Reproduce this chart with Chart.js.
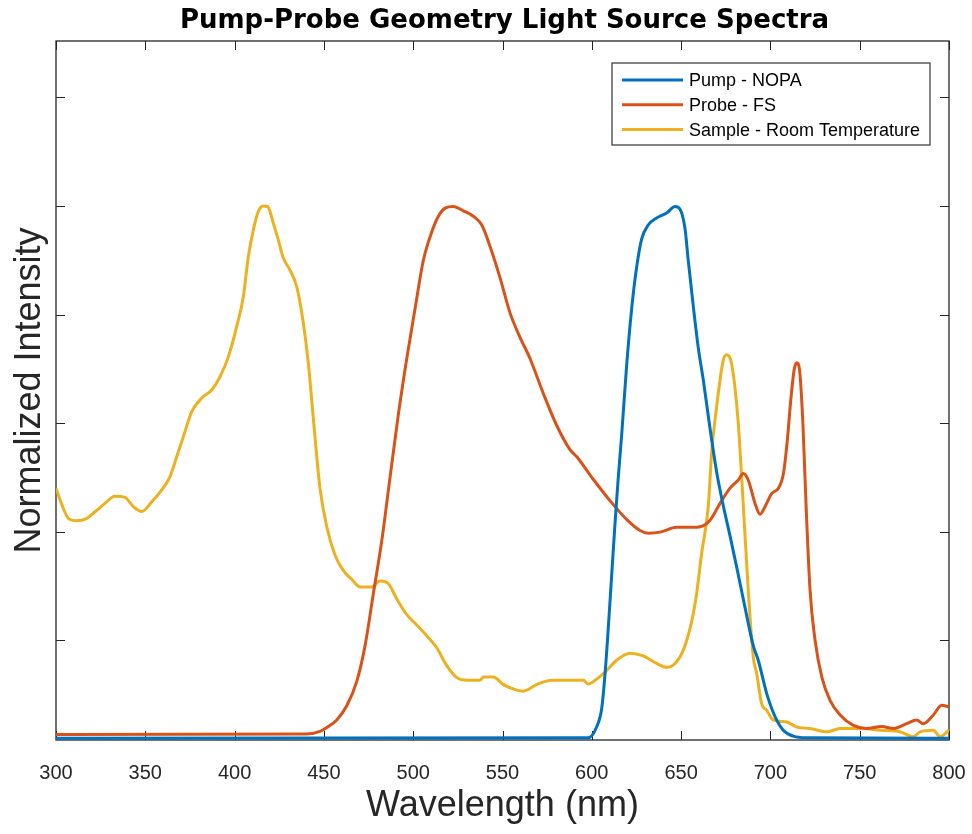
<!DOCTYPE html>
<html>
<head>
<meta charset="utf-8">
<script src="https://cdn.jsdelivr.net/npm/chart.js@4.4.1/dist/chart.umd.min.js"></script>
<style>
  body { margin: 0; background: #fff; }
  #wrap { width: 972px; height: 834px; position: relative; }
</style>
</head>
<body>
<div id="wrap"><canvas id="spectraChart"></canvas></div>
<script>
// wavelength ticks (nm) and hidden intensity ticks
const xTicks = [300, 350, 400, 450, 500, 550, 600, 650, 700, 750, 800];
const yTicks = [0.2, 0.4, 0.6, 0.8, 1.0, 1.2];

// Pump - NOPA
const pumpWl = [300, 598, 602.7, 605.5, 607.4, 609.2, 611.1, 613, 614.8, 616.7, 619.5, 622.3, 625.1, 627.9, 631.6, 636.3, 641.9, 646.6, 649.4, 652.2, 654, 656.8, 659.6, 662.4, 666.2, 669.9, 673.6, 677.4, 681.1, 685.8, 690.4, 693.2, 697.9, 702.6, 707.2, 712.8, 720.3, 800];
const pumpVal = [0.019, 0.02, 0.04, 0.073, 0.137, 0.221, 0.318, 0.415, 0.499, 0.577, 0.706, 0.81, 0.887, 0.939, 0.965, 0.978, 0.987, 0.999, 0.994, 0.958, 0.9, 0.816, 0.739, 0.68, 0.59, 0.51, 0.448, 0.392, 0.335, 0.26, 0.19, 0.163, 0.102, 0.059, 0.034, 0.023, 0.02, 0.019];

// Probe - FS
const probeWl = [300, 440, 447.8, 452, 457.2, 462.8, 468.4, 473, 477.7, 482.4, 487, 491.7, 496.4, 501, 505.7, 510.4, 514.1, 517.9, 522.5, 528.1, 533.7, 538.4, 543, 548.6, 554.2, 559.8, 565.4, 572.8, 580.3, 587.8, 591.6, 600.9, 610.2, 619.6, 627, 631.7, 638.2, 647.5, 656.8, 660.6, 666.2, 671.8, 677.4, 682, 684.8, 687.6, 691.4, 694.2, 697, 700.7, 704.5, 707.3, 709.5, 711.4, 713.3, 714.8, 716.3, 718.2, 720, 722.2, 725, 728.8, 733.4, 739, 746.5, 753.9, 762.3, 768.8, 776.3, 781.9, 785.6, 791.2, 795.9, 800];
const probeVal = [0.026, 0.027, 0.032, 0.04, 0.053, 0.079, 0.124, 0.189, 0.286, 0.383, 0.499, 0.616, 0.719, 0.81, 0.9, 0.952, 0.981, 0.996, 0.999, 0.991, 0.981, 0.965, 0.926, 0.868, 0.803, 0.758, 0.719, 0.655, 0.596, 0.551, 0.538, 0.496, 0.457, 0.422, 0.402, 0.397, 0.399, 0.408, 0.408, 0.409, 0.421, 0.452, 0.48, 0.495, 0.507, 0.495, 0.452, 0.432, 0.446, 0.47, 0.48, 0.507, 0.569, 0.642, 0.698, 0.711, 0.698, 0.599, 0.446, 0.292, 0.2, 0.132, 0.089, 0.062, 0.043, 0.037, 0.041, 0.037, 0.046, 0.053, 0.046, 0.062, 0.08, 0.077];

// Sample - Room Temperature
const sampleWl = [300, 303, 307, 311.6, 317, 322, 327.4, 333, 338.6, 343.3, 348, 353.6, 359.2, 363.8, 367.6, 371.3, 376, 381.6, 387.2, 391.8, 396.5, 401.2, 404.9, 407.7, 410.5, 413.3, 416.1, 418.5, 421.7, 424.5, 427.3, 431, 434.8, 438.5, 441.3, 443.5, 445.4, 447.8, 451.6, 456.2, 460.9, 465.6, 470.2, 476.8, 481.4, 486.1, 490.8, 496.4, 502, 507.6, 513.2, 518.8, 524.4, 530, 537.4, 539.3, 544.9, 550.5, 558, 561.7, 569.1, 577.5, 595.3, 598, 602.7, 608.3, 613.9, 621.4, 628.8, 636.3, 641.9, 646.6, 651.3, 655.9, 658.7, 661.5, 665.2, 667.1, 669.9, 673.6, 675.5, 677.8, 680, 682, 684.8, 687.6, 690.4, 692.3, 695.1, 697.9, 701.6, 709.1, 714.7, 722.2, 731.5, 739, 750.2, 761.4, 772.6, 780, 783.8, 791.2, 795, 800];
const sampleVal = [0.48, 0.452, 0.424, 0.42, 0.424, 0.437, 0.452, 0.465, 0.463, 0.446, 0.437, 0.455, 0.477, 0.501, 0.538, 0.575, 0.621, 0.646, 0.661, 0.685, 0.722, 0.778, 0.833, 0.907, 0.956, 0.99, 1.0, 0.999, 0.968, 0.937, 0.904, 0.882, 0.851, 0.784, 0.71, 0.63, 0.56, 0.48, 0.409, 0.357, 0.328, 0.312, 0.298, 0.298, 0.309, 0.304, 0.276, 0.247, 0.228, 0.208, 0.186, 0.153, 0.131, 0.126, 0.126, 0.132, 0.132, 0.118, 0.108, 0.106, 0.118, 0.126, 0.126, 0.119, 0.128, 0.144, 0.163, 0.176, 0.171, 0.157, 0.15, 0.157, 0.182, 0.234, 0.286, 0.36, 0.446, 0.545, 0.63, 0.716, 0.726, 0.716, 0.67, 0.6, 0.45, 0.292, 0.169, 0.139, 0.083, 0.071, 0.053, 0.049, 0.04, 0.037, 0.031, 0.037, 0.037, 0.034, 0.031, 0.022, 0.031, 0.034, 0.022, 0.034];

const chartTitle = "Pump-Probe Geometry Light Source Spectra";
const axisColor = "#262626";
const fontFamily = "'Liberation Sans', Arial, Helvetica, sans-serif";

function toPoints(xs, ys) {
  return xs.map((x, i) => ({ x: x, y: ys[i] }));
}

// MATLAB style box with inward ticks, title centred over the axes, legend inside
const boxAxes = {
  id: "boxAxes",
  beforeDatasetsDraw(chart) {
    const { ctx, chartArea: a, scales } = chart;
    const len = 9;
    ctx.save();
    ctx.strokeStyle = axisColor;
    ctx.lineWidth = 1.3;
    ctx.strokeRect(a.left, a.top, a.right - a.left, a.bottom - a.top);
    ctx.lineWidth = 1;
    ctx.beginPath();
    xTicks.forEach((t) => {
      const px = Math.round(scales.x.getPixelForValue(t)) + 0.5;
      ctx.moveTo(px, a.bottom); ctx.lineTo(px, a.bottom - len);
      ctx.moveTo(px, a.top); ctx.lineTo(px, a.top + len);
    });
    yTicks.forEach((t) => {
      const py = Math.round(scales.y.getPixelForValue(t)) + 0.5;
      ctx.moveTo(a.left, py); ctx.lineTo(a.left + len, py);
      ctx.moveTo(a.right, py); ctx.lineTo(a.right - len, py);
    });
    ctx.stroke();
    ctx.restore();
  },
  afterDraw(chart) {
    const { ctx, chartArea: a } = chart;
    ctx.save();
    // title
    ctx.fillStyle = "#000";
    ctx.font = "bold 26px 'DejaVu Sans', " + fontFamily;
    ctx.textAlign = "center";
    ctx.textBaseline = "middle";
    ctx.fillText(chartTitle, (a.left + a.right) / 2 + 2, 21);

    // legend
    const bx = a.right - 337, by = a.top + 22, bw = 318, bh = 82;
    ctx.fillStyle = "#fff";
    ctx.fillRect(bx, by, bw, bh);
    ctx.strokeStyle = "#333";
    ctx.lineWidth = 1.2;
    ctx.strokeRect(bx, by, bw, bh);
    ctx.font = "18px " + fontFamily;
    ctx.textAlign = "left";
    ctx.textBaseline = "middle";
    chart.data.datasets.forEach((ds, i) => {
      const y = by + 17 + i * 24.8;
      ctx.strokeStyle = ds.borderColor;
      ctx.lineWidth = 3;
      ctx.beginPath();
      ctx.moveTo(bx + 10, y);
      ctx.lineTo(bx + 71, y);
      ctx.stroke();
      ctx.fillStyle = "#000";
      ctx.fillText(ds.label, bx + 77, y + 1);
    });
    ctx.restore();
  },
};

Chart.defaults.font.family = fontFamily;
Chart.defaults.color = axisColor;

document.addEventListener("DOMContentLoaded", function () {
  const ctx = document.getElementById("spectraChart").getContext("2d");
  const lineStyle = { borderWidth: 3, pointRadius: 0, fill: false, cubicInterpolationMode: "monotone" };
  new Chart(ctx, {
    type: "line",
    data: {
      datasets: [
        { label: "Pump - NOPA", data: toPoints(pumpWl, pumpVal), borderColor: "#0072BD", backgroundColor: "#0072BD", ...lineStyle },
        { label: "Probe - FS", data: toPoints(probeWl, probeVal), borderColor: "#D95319", backgroundColor: "#D95319", ...lineStyle },
        { label: "Sample - Room Temperature", data: toPoints(sampleWl, sampleVal), borderColor: "#EDB120", backgroundColor: "#EDB120", ...lineStyle },
      ],
    },
    options: {
      responsive: true,
      maintainAspectRatio: false,
      animation: false,
      layout: { padding: { left: 0, right: 23, top: 41, bottom: 0 } },
      scales: {
        x: {
          type: "linear",
          min: 300,
          max: 800,
          afterBuildTicks: (scale) => { scale.ticks = xTicks.map((v) => ({ value: v })); },
          afterFit: (scale) => {
            scale.height = 94;
            scale.paddingLeft = 0;
            scale.paddingRight = 0;
          },
          grid: { display: false, drawTicks: false },
          border: { display: false },
          ticks: { color: axisColor, font: { size: 20 }, padding: 21, maxRotation: 0 },
          title: { display: true, text: "Wavelength (nm)", color: axisColor, font: { size: 36 }, padding: { top: 0, bottom: 6 } },
        },
        y: {
          type: "linear",
          min: 0.016,
          max: 1.304,
          afterBuildTicks: (scale) => { scale.ticks = yTicks.map((v) => ({ value: v })); },
          afterFit: (scale) => { scale.width = 56; },
          grid: { display: false, drawTicks: false },
          border: { display: false },
          ticks: { display: false },
          title: { display: true, text: "Normalized Intensity", color: axisColor, font: { size: 36 }, padding: { top: 8, bottom: 0 } },
        },
      },
      plugins: {
        title: { display: false },
        legend: { display: false },
        tooltip: { enabled: false },
      },
    },
    plugins: [boxAxes],
  });
});
</script>
</body>
</html>
